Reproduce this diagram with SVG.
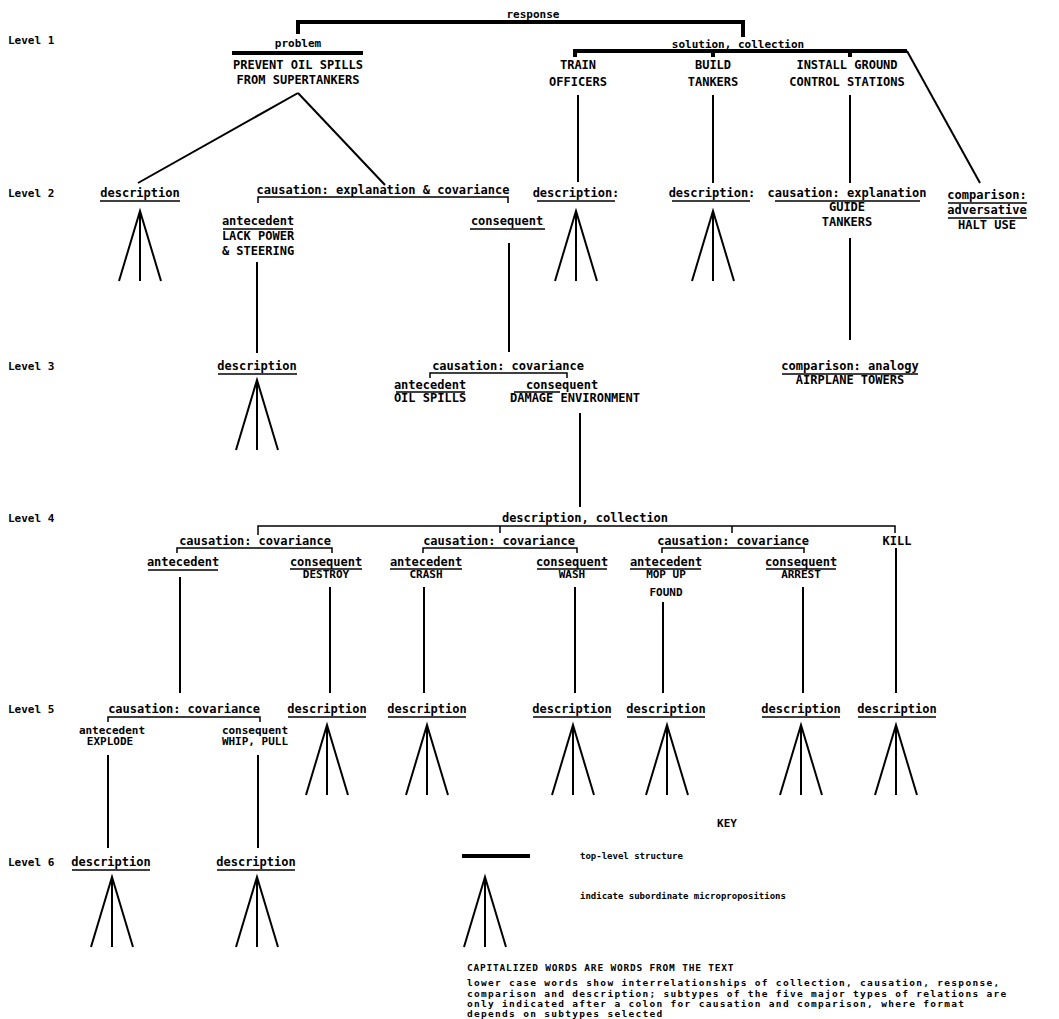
<svg xmlns="http://www.w3.org/2000/svg" width="1059" height="1019" viewBox="0 0 1059 1019">
<style>
text{font-family:"DejaVu Sans Mono","Liberation Mono",monospace;font-weight:bold;font-size:12px;fill:#000;text-anchor:middle}
.lv{text-anchor:start;font-size:11px}
.sm{font-size:11px}
.lk{text-anchor:start;font-size:9px}
.cap{text-anchor:start;font-size:9.5px;letter-spacing:0.8px}
.lg{text-anchor:start;font-size:9.5px;letter-spacing:1.3px}
.thick{stroke:#000;stroke-width:4;fill:none}
.ln{stroke:#000;stroke-width:2;fill:none}
.ul{stroke:#000;stroke-width:1.5;fill:none}
.br{stroke:#000;stroke-width:1.5;fill:none}
</style>
<defs>
<path id="fan" d="M-21,70 L0,0 L21,70 M0,0 V70" class="ln"/>
</defs>
<rect width="1059" height="1019" fill="#fff"/>

<g id="levels">
<text class="lv" x="8" y="44">Level 1</text>
<text class="lv" x="8" y="197">Level 2</text>
<text class="lv" x="8" y="370">Level 3</text>
<text class="lv" x="8" y="522">Level 4</text>
<text class="lv" x="8" y="713">Level 5</text>
<text class="lv" x="8" y="866">Level 6</text>
</g>

<g id="connectors">
<path class="thick" d="M298,34 V22 H743 V37"/>
<path class="thick" d="M575,57 V51 H907 M713,51 V57 M850,51 V57"/>
<path class="ln" d="M907,51 L980,183"/>
<path class="ln" d="M298,93 L138,183 M298,93 L385,185"/>
<path class="ln" d="M578,95 V182 M713,95 V183 M850,95 V183"/>
<path class="ln" d="M257,262 V353 M509,243 V352 M850,238 V340"/>
<path class="ln" d="M580,413 V507"/>
<path class="br" d="M258,535 V526 H895 V533 M500,526 V533 M732,526 V533"/>
<path class="ln" d="M180,577 V693 M330,587 V693 M424,587 V693 M575,587 V693 M663,602 V693 M803,587 V693 M896,548 V693"/>
<path class="ln" d="M108,755 V848 M258,755 V848"/>
</g>

<g id="response"><text x="533" y="18" class="sm">response</text></g>

<g id="problem">
<text x="298" y="47" class="sm">problem</text>
<path class="thick" d="M232,53 H363"/>
<text x="298" y="69">PREVENT OIL SPILLS</text>
<text x="298" y="84">FROM SUPERTANKERS</text>
</g>

<g id="solution"><text x="738" y="48" class="sm">solution, collection</text></g>

<g id="train"><text x="578" y="69">TRAIN</text><text x="578" y="86">OFFICERS</text></g>
<g id="build"><text x="713" y="69">BUILD</text><text x="713" y="86">TANKERS</text></g>
<g id="install"><text x="847" y="69">INSTALL GROUND</text><text x="847" y="86">CONTROL STATIONS</text></g>

<g id="l2-description">
<text x="140" y="197">description</text>
<path class="ul" d="M100,201 H180"/>
<use href="#fan" x="140" y="211"/>
</g>

<g id="l2-causation">
<text x="383" y="194">causation: explanation &amp; covariance</text>
<path class="br" d="M258,203 V197 H508 V203"/>
</g>
<g id="l2-antecedent">
<text x="258" y="225">antecedent</text>
<path class="ul" d="M223,229 H293"/>
<text x="258" y="240">LACK POWER</text>
<text x="258" y="255">&amp; STEERING</text>
</g>
<g id="l2-consequent">
<text x="507" y="225">consequent</text>
<path class="ul" d="M470,229 H545"/>
</g>

<g id="l2-desc-train">
<text x="576" y="197">description:</text>
<path class="ul" d="M537,201 H615"/>
<use href="#fan" x="576" y="211"/>
</g>
<g id="l2-desc-build">
<text x="712" y="197">description:</text>
<path class="ul" d="M672,201 H750"/>
<use href="#fan" x="713" y="211"/>
</g>
<g id="l2-causation-install">
<text x="847" y="197">causation: explanation</text>
<path class="ul" d="M775,201 H920"/>
<text x="847" y="211">GUIDE</text>
<text x="847" y="226">TANKERS</text>
</g>
<g id="l2-comparison">
<text x="987" y="199">comparison:</text>
<path class="ul" d="M948,203 H1027"/>
<text x="987" y="214">adversative</text>
<path class="ul" d="M948,218 H1027"/>
<text x="987" y="229">HALT USE</text>
</g>

<g id="l3-description">
<text x="257" y="370">description</text>
<path class="ul" d="M218,374 H297"/>
<use href="#fan" x="257" y="380"/>
</g>
<g id="l3-causation">
<text x="508" y="370">causation: covariance</text>
<path class="br" d="M430,378 V373 H567 V378"/>
</g>
<g id="l3-antecedent">
<text x="430" y="389">antecedent</text>
<path class="ul" d="M396,392 H465"/>
<text x="430" y="402">OIL SPILLS</text>
</g>
<g id="l3-consequent">
<text x="562" y="389">consequent</text>
<path class="ul" d="M514,392 H560"/>
<text x="575" y="402">DAMAGE ENVIRONMENT</text>
</g>
<g id="l3-comparison">
<text x="850" y="370">comparison: analogy</text>
<path class="ul" d="M782,374 H918"/>
<text x="850" y="384">AIRPLANE TOWERS</text>
</g>

<g id="l4-collection"><text x="585" y="522">description, collection</text></g>

<g id="l4-causation1">
<text x="255" y="545">causation: covariance</text>
<path class="br" d="M177,553 V548 H332 V553"/>
</g>
<g id="l4-antecedent1">
<text x="183" y="566">antecedent</text>
<path class="ul" d="M148,570 H218"/>
</g>
<g id="l4-destroy">
<text x="326" y="566">consequent</text>
<path class="ul" d="M290,569 H362"/>
<text x="326" y="578" class="sm">DESTROY</text>
</g>
<g id="l4-causation2">
<text x="499" y="545">causation: covariance</text>
<path class="br" d="M423,553 V548 H577 V553"/>
</g>
<g id="l4-crash">
<text x="426" y="566">antecedent</text>
<path class="ul" d="M390,569 H462"/>
<text x="426" y="578" class="sm">CRASH</text>
</g>
<g id="l4-wash">
<text x="572" y="566">consequent</text>
<path class="ul" d="M537,569 H607"/>
<text x="572" y="578" class="sm">WASH</text>
</g>
<g id="l4-causation3">
<text x="733" y="545">causation: covariance</text>
<path class="br" d="M662,553 V548 H804 V553"/>
</g>
<g id="l4-mopup">
<text x="666" y="566">antecedent</text>
<path class="ul" d="M630,569 H701"/>
<text x="666" y="578" class="sm">MOP UP</text>
<text x="666" y="596" class="sm">FOUND</text>
</g>
<g id="l4-arrest">
<text x="801" y="566">consequent</text>
<path class="ul" d="M766,569 H836"/>
<text x="801" y="578" class="sm">ARREST</text>
</g>
<g id="l4-kill"><text x="897" y="545">KILL</text></g>

<g id="l5-causation">
<text x="184" y="713">causation: covariance</text>
<path class="br" d="M108,722 V717 H260 V722"/>
</g>
<g id="l5-explode">
<text x="112" y="734" class="sm">antecedent</text>
<text x="110" y="745" class="sm">EXPLODE</text>
</g>
<g id="l5-whip">
<text x="255" y="734" class="sm">consequent</text>
<text x="255" y="745" class="sm">WHIP, PULL</text>
</g>
<g id="l5-desc-destroy">
<text x="327" y="713">description</text>
<path class="ul" d="M288,717 H366"/>
<use href="#fan" x="327" y="725"/>
</g>
<g id="l5-desc-crash">
<text x="427" y="713">description</text>
<path class="ul" d="M388,717 H466"/>
<use href="#fan" x="427" y="725"/>
</g>
<g id="l5-desc-wash">
<text x="572" y="713">description</text>
<path class="ul" d="M533,717 H611"/>
<use href="#fan" x="573" y="725"/>
</g>
<g id="l5-desc-mopup">
<text x="666" y="713">description</text>
<path class="ul" d="M627,717 H705"/>
<use href="#fan" x="667" y="725"/>
</g>
<g id="l5-desc-arrest">
<text x="801" y="713">description</text>
<path class="ul" d="M762,717 H840"/>
<use href="#fan" x="801" y="725"/>
</g>
<g id="l5-desc-kill">
<text x="897" y="713">description</text>
<path class="ul" d="M858,717 H936"/>
<use href="#fan" x="896" y="725"/>
</g>

<g id="l6-desc-explode">
<text x="111" y="866">description</text>
<path class="ul" d="M72,870 H150"/>
<use href="#fan" x="112" y="877"/>
</g>
<g id="l6-desc-whip">
<text x="256" y="866">description</text>
<path class="ul" d="M217,870 H295"/>
<use href="#fan" x="257" y="877"/>
</g>

<g id="key">
<text x="727" y="827" class="sm">KEY</text>
<path class="thick" d="M462,856 H530"/>
<text class="lk" x="580" y="859">top-level structure</text>
<use href="#fan" x="485" y="877"/>
<text class="lk" x="580" y="899">indicate subordinate micropropositions</text>
<text class="cap" x="467" y="971">CAPITALIZED WORDS ARE WORDS FROM THE TEXT</text>
<text class="lg" x="467" y="986">lower case words show interrelationships of collection, causation, response,</text>
<text class="lg" x="467" y="996.5">comparison and description; subtypes of the five major types of relations are</text>
<text class="lg" x="467" y="1007">only indicated after a colon for causation and comparison, where format</text>
<text class="lg" x="467" y="1017">depends on subtypes selected</text>
</g>
</svg>
